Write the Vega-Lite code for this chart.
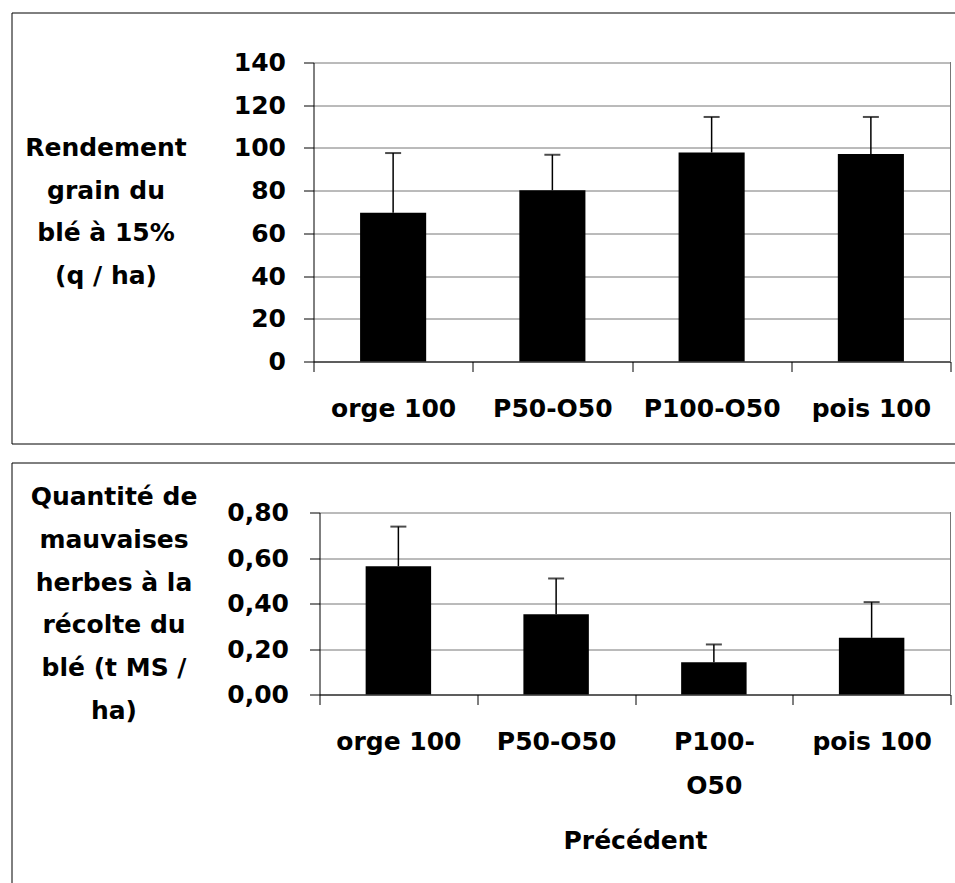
{
  "$schema": "https://vega.github.io/schema/vega-lite/v6.json",
  "padding": {"left": 10.5, "top": 11.5, "right": -16.5, "bottom": -18.5},
  "background": "white",
  "spacing": 17,
  "config": {
    "view": {"stroke": "#000", "strokeWidth": 1},
    "font": "DejaVu Sans",
    "axis": {
      "labelFont": "DejaVu Sans", "labelFontWeight": "bold", "labelFontSize": 25, "labelColor": "#000",
      "titleFont": "DejaVu Sans", "titleFontWeight": "bold", "titleFontSize": 25, "titleColor": "#000",
      "domainColor": "#000", "domainWidth": 1, "tickColor": "#000", "tickSize": 10, "tickWidth": 1,
      "gridColor": "#777", "gridOpacity": 1, "gridWidth": 1
    }
  },
  "vconcat": [
    {
      "width": 960,
      "height": 431,
      "data": {"values": [
        {"Precedent": "orge 100", "valeur": 69.7, "haut": 97.6},
        {"Precedent": "P50-O50", "valeur": 80.2, "haut": 96.8},
        {"Precedent": "P100-O50", "valeur": 97.9, "haut": 114.5},
        {"Precedent": "pois 100", "valeur": 97.1, "haut": 114.5}
      ]},
      "layer": [
        {
          "mark": {"type": "bar", "color": "#000", "width": {"band": 0.415}},
          "encoding": {
            "x": {"field": "Precedent", "type": "nominal", "sort": null,
              "scale": {"range": [302, 939], "paddingInner": 0, "paddingOuter": 0},
              "axis": {"title": null, "tickBand": "extent", "offset": -82, "labelAngle": 0, "labelPadding": 25, "grid": false}},
            "y": {"field": "valeur", "type": "quantitative",
              "scale": {"domain": [0, 140], "range": [349, 50], "nice": false, "zero": true},
              "axis": {"title": ["Rendement", "grain du", "blé à 15%", "(q / ha)"],
                "titleAngle": 0, "titleAlign": "center", "titleBaseline": "middle",
                "titleX": -208, "titleY": 135, "titleLineHeight": 42.5,
                "offset": -302, "values": [0, 20, 40, 60, 80, 100, 120, 140],
                "labelPadding": 18, "grid": true}}
          }
        },
        {
          "mark": {"type": "rule", "color": "#000", "strokeWidth": 1.5},
          "encoding": {
            "x": {"field": "Precedent", "type": "nominal", "sort": null},
            "y": {"field": "valeur", "type": "quantitative"},
            "y2": {"field": "haut"}
          }
        },
        {
          "mark": {"type": "tick", "color": "#000", "size": 16, "thickness": 2, "orient": "horizontal"},
          "encoding": {
            "x": {"field": "Precedent", "type": "nominal", "sort": null},
            "y": {"field": "haut", "type": "quantitative"}
          }
        },
        {
          "mark": {"type": "rule", "color": "#777", "strokeWidth": 1},
          "encoding": {
            "x": {"datum": "pois 100", "bandPosition": 1},
            "y": {"datum": 0},
            "y2": {"datum": 140}
          }
        }
      ]
    },
    {
      "width": 960,
      "height": 440,
      "data": {"values": [
        {"Precedent": "orge 100", "valeur": 0.564, "haut": 0.738},
        {"Precedent": "P50-O50", "valeur": 0.353, "haut": 0.510},
        {"Precedent": "P100-O50", "valeur": 0.142, "haut": 0.220},
        {"Precedent": "pois 100", "valeur": 0.249, "haut": 0.406}
      ]},
      "layer": [
        {
          "mark": {"type": "bar", "color": "#000", "width": {"band": 0.415}},
          "encoding": {
            "x": {"field": "Precedent", "type": "nominal", "sort": null,
              "scale": {"range": [308, 939], "paddingInner": 0, "paddingOuter": 0},
              "axis": {"title": "Précédent", "titleBaseline": "top", "titleY": 133.5, "titleX": 623.5, "titleAlign": "center",
                "tickBand": "extent", "offset": -208, "labelAngle": 0, "labelPadding": 25, "labelLineHeight": 44,
                "labelExpr": "datum.label == 'P100-O50' ? ['P100-', 'O50'] : datum.label", "grid": false}},
            "y": {"field": "valeur", "type": "quantitative",
              "scale": {"domain": [0, 0.8], "range": [232, 50], "nice": false, "zero": true},
              "axis": {"title": ["Quantité de", "mauvaises", "herbes à la", "récolte du", "blé (t MS /", "ha)"],
                "titleAngle": 0, "titleAlign": "center", "titleBaseline": "middle",
                "titleX": -206, "titleY": 34, "titleLineHeight": 42.8,
                "offset": -308, "values": [0, 0.2, 0.4, 0.6, 0.8],
                "labelExpr": "replace(format(datum.value, '.2f'), '.', ',')",
                "labelPadding": 21, "grid": true}}
          }
        },
        {
          "mark": {"type": "rule", "color": "#000", "strokeWidth": 1.5},
          "encoding": {
            "x": {"field": "Precedent", "type": "nominal", "sort": null},
            "y": {"field": "valeur", "type": "quantitative"},
            "y2": {"field": "haut"}
          }
        },
        {
          "mark": {"type": "tick", "color": "#000", "size": 16, "thickness": 2, "orient": "horizontal"},
          "encoding": {
            "x": {"field": "Precedent", "type": "nominal", "sort": null},
            "y": {"field": "haut", "type": "quantitative"}
          }
        },
        {
          "mark": {"type": "rule", "color": "#777", "strokeWidth": 1},
          "encoding": {
            "x": {"datum": "pois 100", "bandPosition": 1},
            "y": {"datum": 0},
            "y2": {"datum": 0.8}
          }
        }
      ]
    }
  ]
}
